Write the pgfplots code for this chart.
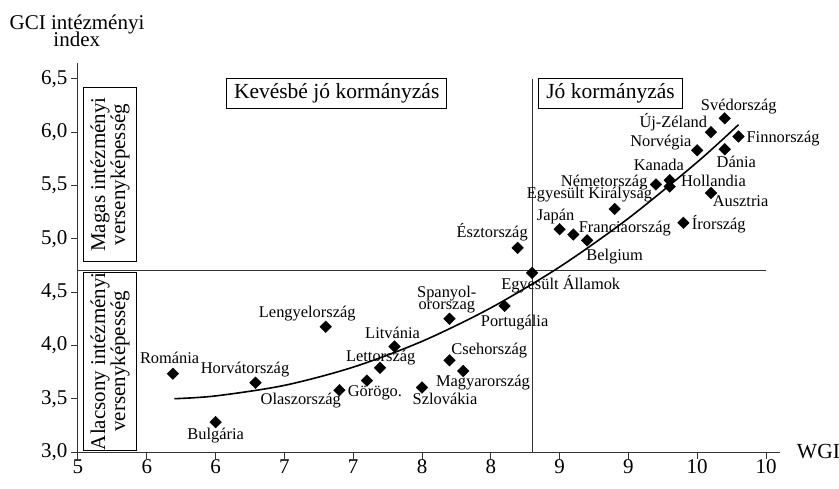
\documentclass[border=0pt]{standalone}
\usepackage{fontspec}
\setmainfont{Liberation Serif}
\usepackage{pgfplots}
\pgfplotsset{compat=1.18}
\tikzset{lab/.style={anchor=base, inner sep=0pt, font=\fontsize{16.4}{16}\selectfont}}
\begin{document}
\begin{tikzpicture}
\begin{axis}[
  x=137.6pt, y=106.6pt,
  xmin=5, xmax=10.1, ymin=3, ymax=6.65,
  axis lines=left, axis line style={-, line width=1pt, black!80},
  tick align=outside, major tick length=7pt,
  tick style={line width=1pt, black!80},
  xtick={5,5.5,6,6.5,7,7.5,8,8.5,9,9.5,10},
  xticklabels={5,6,6,7,7,8,8,9,9,10,10},
  ytick={3,3.5,4,4.5,5,5.5,6,6.5},
  yticklabels={{3,0},{3,5},{4,0},{4,5},{5,0},{5,5},{6,0},{6,5}},
  ticklabel style={font=\fontsize{21}{21}\selectfont},
  xticklabel style={yshift=3pt},
  /pgf/number format/assume math mode=true,
  clip=false,
]
\coordinate (origin) at (axis cs:5,3);
% reference lines
\addplot[black!80, line width=0.9pt] coordinates {(5,4.7) (10,4.7)};
\addplot[black!80, line width=0.9pt] coordinates {(8.3,3) (8.3,6.5)};
% trend
\addplot[black, line width=1.6pt, smooth] coordinates {
(5.7,3.50) (6.0,3.526) (6.5,3.625) (7.0,3.796) (7.5,4.038) (8.0,4.352)
(8.5,4.736) (9.0,5.192) (9.5,5.719) (9.8,6.07)};
% countries
\addplot[only marks, mark=square*, mark size=4.1pt, mark options={rotate=45, fill=black, draw=black}] coordinates {
(5.69,3.735) (6.00,3.28) (6.29,3.65) (6.90,3.58) (7.10,3.67) (7.195,3.79)
(7.30,3.99) (6.80,4.175) (7.50,3.605) (7.70,3.86) (7.80,3.76) (7.70,4.25)
(8.10,4.37) (8.30,4.68) (8.195,4.915) (8.70,4.985) (8.60,5.04) (8.50,5.09)
(8.90,5.28) (9.20,5.51) (9.30,5.55) (9.30,5.49) (9.50,5.83) (9.60,6.00)
(9.70,6.13) (9.80,5.96) (9.70,5.84) (9.60,5.43) (9.40,5.15)};
% labels
\node[lab] at (axis cs:9.802,6.208) {Svédország};
\node[lab] at (axis cs:9.326,6.042) {Új-Zéland};
\node[lab] at (axis cs:9.236,5.864) {Norvégia};
\node[lab] at (axis cs:10.124,5.905) {Finnország};
\node[lab] at (axis cs:9.784,5.671) {Dánia};
\node[lab] at (axis cs:9.221,5.645) {Kanada};
\node[lab] at (axis cs:8.824,5.495) {Németország};
\node[lab] at (axis cs:9.618,5.495) {Hollandia};
\node[lab] at (axis cs:8.717,5.375) {Egyesült Királyság};
\node[lab] at (axis cs:9.815,5.301) {Ausztria};
\node[lab] at (axis cs:8.471,5.176) {Japán};
\node[lab] at (axis cs:8.974,5.063) {Franciaország};
\node[lab] at (axis cs:9.657,5.083) {Írország};
\node[lab] at (axis cs:8.010,5.014) {Észtország};
\node[lab] at (axis cs:8.90,4.80) {Belgium};
\node[lab] at (axis cs:8.508,4.523) {Egyesült Államok};
\node[lab] at (axis cs:7.68,4.451) {Spanyol-};
\node[lab] at (axis cs:7.68,4.339) {ororszag};
\node[lab] at (axis cs:8.173,4.182) {Portugália};
\node[lab] at (axis cs:7.989,3.91) {Csehország};
\node[lab] at (axis cs:7.943,3.613) {Magyarország};
\node[lab] at (axis cs:7.667,3.441) {Szlovákia};
\node[lab] at (axis cs:5.666,3.826) {Románia};
\node[lab] at (axis cs:6.214,3.738) {Horvátország};
\node[lab] at (axis cs:6.666,4.26) {Lengyelország};
\node[lab] at (axis cs:7.286,4.066) {Litvánia};
\node[lab] at (axis cs:7.20,3.847) {Lettország};
\node[lab] at (axis cs:6.619,3.441) {Olaszország};
\node[lab] at (axis cs:7.158,3.519) {Görögo.};
\node[lab] at (axis cs:6.0,3.119) {Bulgária};
% boxes
\node[draw=black, line width=0.9pt, fill=white, minimum width=220pt, minimum height=30pt, inner sep=0pt,
  font=\fontsize{21.5}{21}\selectfont] at (axis cs:6.88,6.36) {Kevésbé jó kormányzás};
\node[draw=black, line width=0.9pt, fill=white, minimum width=144pt, minimum height=30pt, inner sep=0pt,
  font=\fontsize{21.5}{21}\selectfont] at (axis cs:8.87,6.36) {Jó kormányzás};
\node[draw=black, line width=0.9pt, fill=white, rotate=90, minimum width=174pt, minimum height=53pt, inner sep=0pt,
  align=center, font=\fontsize{21}{20}\selectfont] at (axis cs:5.2326,5.603) {Magas intézményi\\versenyképesség};
\node[draw=black, line width=0.9pt, fill=white, rotate=90, minimum width=177pt, minimum height=53pt, inner sep=0pt,
  align=center, font=\fontsize{21}{20}\selectfont] at (axis cs:5.2326,3.852) {Alacsony intézményi\\versenyképesség};
% axis titles
\node[anchor=base, inner sep=0pt, font=\fontsize{21}{21}\selectfont] at (axis cs:4.993,6.968) {GCI intézményi};
\node[anchor=base, inner sep=0pt, font=\fontsize{21}{21}\selectfont] at (axis cs:4.991,6.802) {index};
\node[anchor=base west, inner sep=0pt, font=\fontsize{21.5}{21}\selectfont, xshift=17pt, yshift=-6pt] at (axis cs:10.1,3) {WGI};
\end{axis}
\pgfresetboundingbox
\path ([shift={(-78pt,-36pt)}]origin) rectangle ([shift={(761pt,452pt)}]origin);
\end{tikzpicture}
\end{document}
